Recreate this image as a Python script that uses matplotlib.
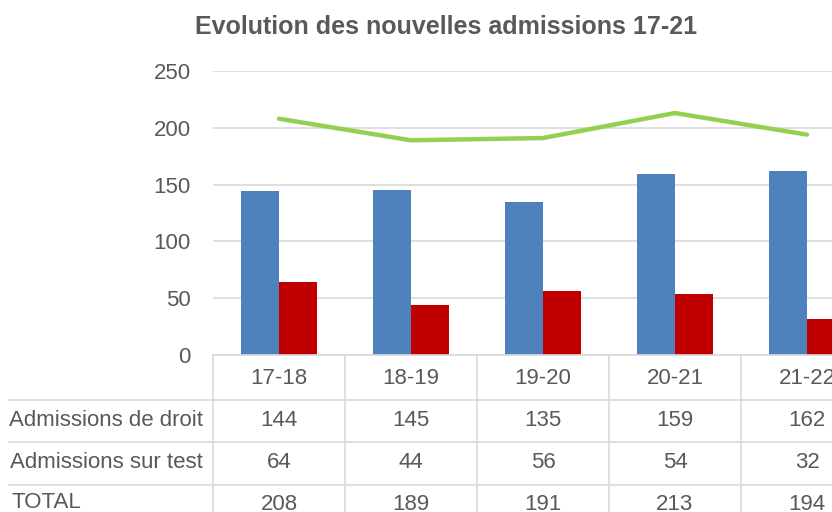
import matplotlib.pyplot as plt
import matplotlib.transforms as mtransforms
from matplotlib.lines import Line2D

plt.rcParams['font.family'] = ['Liberation Sans Narrow', 'Liberation Sans', 'DejaVu Sans']

# data
years = ['17-18', '18-19', '19-20', '20-21', '21-22']
droit = [144, 145, 135, 159, 162]
test = [64, 44, 56, 54, 32]
total = [208, 189, 191, 213, 194]
row_names = ['Admissions de droit', 'Admissions sur test', 'TOTAL']

blue = '#4F81BD'
red = '#C00000'
green = '#92D050'
grid = '#D9D9D9'
txt = '#595959'

W, H = 832, 512
fig = plt.figure(figsize=(W/100, H/100), dpi=100)
# plot area runs past the right edge (chart is cut off in the reference)
ax = fig.add_axes([213/W, 157/H, 660/W, 284/H])

x = list(range(len(years)))
bw = 0.29
ax.bar([i - bw/2 for i in x], droit, bw, color=blue, zorder=2)
ax.bar([i + bw/2 for i in x], test, bw, color=red, zorder=2)
ax.plot(x, total, color=green, lw=3.2, solid_capstyle='round', zorder=3)

ax.set_xlim(-0.5, len(years) - 0.5)
ax.set_ylim(0, 250)
ax.set_yticks(range(0, 251, 50))
ax.yaxis.grid(True, color=grid, lw=1.2, zorder=0)
ax.set_axisbelow(True)
ax.set_xticks([])
for s in ['top', 'right', 'left']:
    ax.spines[s].set_visible(False)
ax.spines['bottom'].set_color(grid)
ax.spines['bottom'].set_linewidth(1.2)
ax.tick_params(axis='y', length=0, pad=16, labelsize=16, labelcolor=txt)

fig.text(446/W, 1 - 27/H, 'Evolution des nouvelles admissions 17-21',
         ha='center', va='center', fontsize=18, color=txt, fontweight='bold')

# data table under the plot
tr = mtransforms.blended_transform_factory(ax.transData, ax.transAxes)
px = lambda p: (355 - p) / 284.0
row_y = [px(421), px(463), px(504)]
for i, y in enumerate(years):
    ax.text(i, px(378), y, transform=tr, ha='center', va='center',
            fontsize=16, color=txt, clip_on=False)
for vals, ry in zip([droit, test, total], row_y):
    for i, v in enumerate(vals):
        ax.text(i, ry, str(v), transform=tr, ha='center', va='center',
                fontsize=16, color=txt, clip_on=False)

ax.vlines([i - 0.5 for i in range(len(years) + 1)], px(530), 0, transform=tr,
          color=grid, lw=1.2, clip_on=False)
for p in [400, 442, 485]:
    fig.add_artist(Line2D([9/W, 1], [1 - p/H, 1 - p/H], color=grid, lw=1.2))

fig.text(203/W, 1 - 421/H, row_names[0], ha='right', va='center', fontsize=16, color=txt)
fig.text(203/W, 1 - 463/H, row_names[1], ha='right', va='center', fontsize=16, color=txt)
fig.text(12/W, 1 - 502/H, row_names[2], ha='left', va='center', fontsize=16, color=txt)

fig.savefig('out.png', dpi=100)
